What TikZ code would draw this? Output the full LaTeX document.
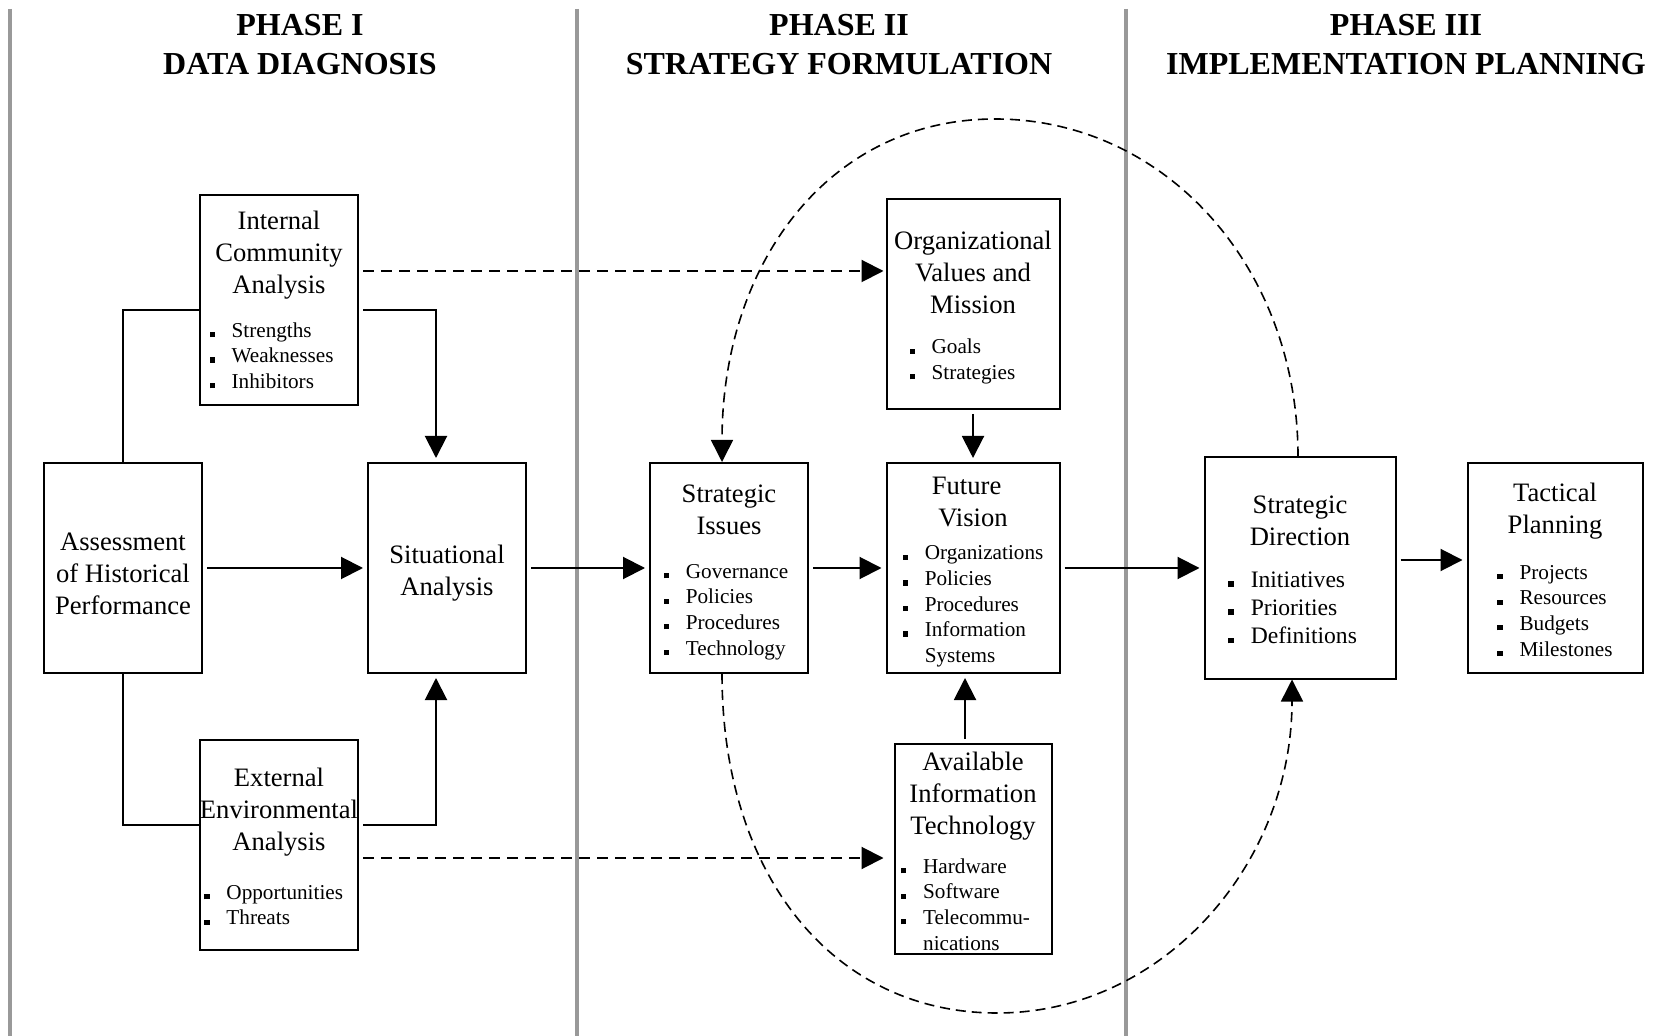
\documentclass[tikz,border=0pt]{standalone}
\usepackage{fontspec}
\setmainfont{Liberation Serif}
\usetikzlibrary{arrows.meta}
\newcommand{\sqb}{\rule{0.25em}{0.25em}}
\newcommand{\tp}[1][14.5pt]{\rule{0pt}{#1}}
\newcommand{\blist}[2][\fontsize{10.6}{12.8}\selectfont]{{#1\begin{tabular}[t]{@{}l@{\hspace{8.4pt}}l@{}}#2\end{tabular}}}
\tikzset{
  blk/.style={draw,line width=1pt,align=center,inner sep=0pt,minimum width=79pt,minimum height=105pt,font=\fontsize{13.3}{16}\selectfont},
  link/.style={line width=1pt},
  arr/.style={line width=1pt,-{Triangle[length=11pt,width=11pt]},shorten <=2pt,shorten >=2pt},
  dasharr/.style={arr,dash pattern=on 5.5pt off 3.5pt},
  loopline/.style={line width=0.8pt,dash pattern=on 5pt off 3pt,-{Triangle[length=11pt,width=11pt]}},
  phase/.style={font=\fontsize{16}{19.5}\selectfont\bfseries,align=center},
  divider/.style={line width=1.6pt,black!40}
}
\begin{document}
\begin{tikzpicture}[x=0.5pt,y=-0.5pt]
\useasboundingbox (0,0) rectangle (1669,1036);
\foreach \xx in {10,577,1126} \draw[divider] (\xx,9) -- (\xx,1036);
\node[phase] (ph1) at (300,45) {PHASE I\\DATA DIAGNOSIS};
\node[phase] (ph2) at (839,45) {PHASE II\\STRATEGY FORMULATION};
\node[phase] (ph3) at (1406,45) {PHASE III\\IMPLEMENTATION PLANNING};

\node[blk] (assess) at (123,568) {\tp Assessment\\of Historical\\Performance};
\node[blk] (situ) at (447,568) {\tp Situational\\Analysis};
\node[blk] (internal) at (279,300) {\tp[12.5pt]Internal\\Community\\Analysis\\[6pt]\blist{\sqb & Strengths\\ \sqb & Weaknesses\\ \sqb & Inhibitors}\hspace*{7.5pt}};
\node[blk] (external) at (279,845) {\tp External\\Environmental\\Analysis\\[8.5pt]\blist{\sqb & Opportunities\\ \sqb & Threats}\hspace*{5.3pt}};
\node[blk] (issues) at (729,568) {\tp Strategic\\Issues\\[6pt]\blist{\sqb & Governance\\ \sqb & Policies\\ \sqb & Procedures\\ \sqb & Technology}\hspace*{3pt}};
\node[blk,minimum width=86.5pt] (values) at (973,304) {\tp Organizational\\Values and\\Mission\\[4pt]\blist{\sqb & Goals\\ \sqb & Strategies}\hspace*{10.6pt}};
\node[blk,minimum width=86.5pt] (vision) at (973,568) {\tp Future\hspace*{6.4pt}\\Vision\hspace*{6.4pt}\\[0.5pt]\blist{\sqb & Organizations\\ \sqb & Policies\\ \sqb & Procedures\\ \sqb & Information\\ & Systems}};
\node[blk,minimum width=78.5pt] (avail) at (973,849) {\tp[12pt]Available\\Information\\Technology\\[3.5pt]\blist{\sqb & Hardware\\ \sqb & Software\\ \sqb & Telecommu-\\ & nications\\[-3pt]}\hspace*{7.5pt}};
\node[blk,minimum width=95.5pt,minimum height=110.5pt] (direction) at (1300,568) {\tp Strategic\\Direction\\[5pt]\blist[\fontsize{11.8}{14.1}\selectfont]{\sqb & Initiatives\\ \sqb & Priorities\\ \sqb & Definitions}\hspace*{7.5pt}};
\node[blk,minimum width=87.5pt] (tactical) at (1555,568) {\tp Tactical\\Planning\\[7pt]\blist{\sqb & Projects\\ \sqb & Resources\\ \sqb & Budgets\\ \sqb & Milestones}};

\draw[link] (assess.north) |- ([yshift=-5pt]internal.west);
\draw[arr] ([yshift=-5pt]internal.east) -| ([xshift=-5.5pt]situ.north);
\draw[link] (assess.south) |- ([yshift=10pt]external.west);
\draw[arr] ([yshift=10pt]external.east) -| ([xshift=-5.5pt]situ.south);
\draw[arr] (assess) -- (situ); \draw[arr] (situ) -- (issues); \draw[arr] (issues) -- (vision); \draw[arr] (vision) -- (direction);
\coordinate (dt) at ([yshift=4pt]direction.east); \draw[arr] (dt) -- (dt -| tactical.west);
\draw[arr] (values) -- (vision);
\coordinate (av) at ([xshift=-4pt]avail.north); \draw[arr] (av) -- (av |- vision.south);
\coordinate (ia) at ([yshift=14.5pt]internal.east); \draw[dasharr,shorten >=1pt] (ia) -- (ia -| values.west);
\coordinate (ea) at ([yshift=-6.5pt]external.east); \draw[dasharr,shorten >=5pt] (ea) -- (ea -| avail.west);

\coordinate (apex) at (995,119); \coordinate (nadir) at (997,1013);
\draw[loopline] ([xshift=-1pt]direction.north) .. controls +(0,-190) and +(170,0) .. (apex) .. controls +(-165,0) and +(0,-200) .. ([xshift=-3.5pt]issues.north);
\draw[loopline] ([xshift=-3.5pt]issues.south) .. controls +(0,200) and +(-165,0) .. (nadir) .. controls +(165,0) and +(0,186) .. ([xshift=-4pt]direction.south);
\end{tikzpicture}
\end{document}
